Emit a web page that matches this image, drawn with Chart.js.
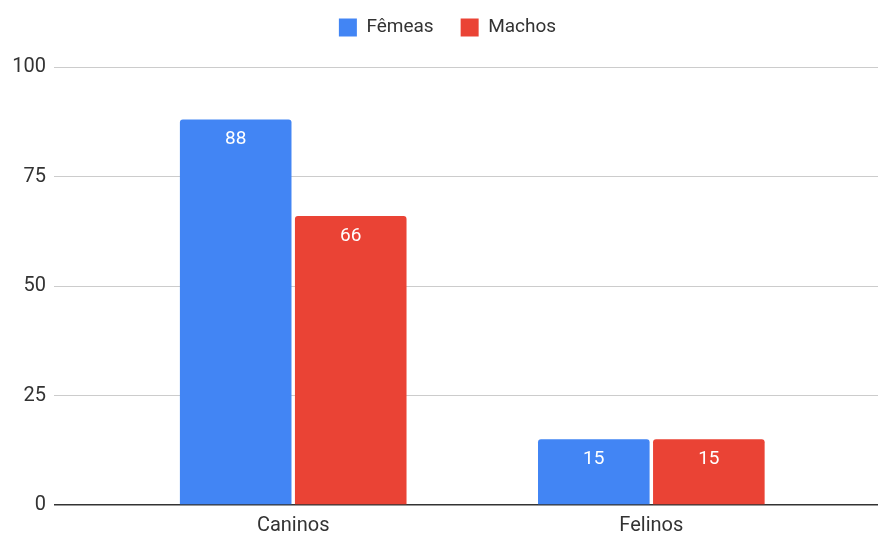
<!DOCTYPE html>
<html>
<head>
<meta charset="utf-8">
<script src="https://cdn.jsdelivr.net/npm/chart.js@4/dist/chart.umd.min.js"></script>
<style>
  html, body { margin: 0; padding: 0; background: #fff; }
  #wrap { width: 880px; height: 534px; }
</style>
</head>
<body>
<div id="wrap"><canvas id="chart"></canvas></div>
<script>
/* ── Datos ─────────────────────────────────────────────── */
const CATEGORIAS = ['Caninos', 'Felinos'];
const FEMEAS     = [88, 15];
const MACHOS     = [66, 15];
const Y_TICKS    = [0, 25, 50, 75, 100];

const AZUL     = '#4285F4';
const VERMELHO = '#EA4335';

Chart.defaults.font.family = "Roboto, 'Noto Sans', sans-serif";
Chart.defaults.font.size   = 19;
Chart.defaults.color       = '#333';

/* ── Etiquetas dentro de las barras ────────────────────── */
const barLabels = {
  id: 'barLabels',
  afterDatasetsDraw(chart) {
    const { ctx } = chart;
    ctx.save();
    ctx.font = "19px Roboto, sans-serif";
    ctx.fillStyle = '#fff';
    ctx.textAlign = 'center';
    ctx.textBaseline = 'middle';
    chart.data.datasets.forEach((ds, i) => {
      chart.getDatasetMeta(i).data.forEach((bar, j) => {
        ctx.fillText(String(ds.data[j].y), bar.x, bar.y + 20);
      });
    });
    ctx.restore();
  }
};

/* leyenda un poco a la derecha, como en el original */
const legendShift = {
  id: 'legendShift',
  afterLayout(chart) { if (chart.legend) chart.legend.left += 17; }
};

const toPoints = arr => arr.map((v, i) => ({ x: i, y: v }));

new Chart(document.getElementById('chart'), {
  type: 'bar',
  data: {
    datasets: [
      { label: 'Fêmeas', data: toPoints(FEMEAS), backgroundColor: AZUL,
        borderRadius: { topLeft: 3, topRight: 3 }, borderSkipped: 'bottom' },
      { label: 'Machos', data: toPoints(MACHOS), backgroundColor: VERMELHO,
        borderRadius: { topLeft: 3, topRight: 3 }, borderSkipped: 'bottom' },
    ],
  },
  options: {
    responsive: true, maintainAspectRatio: false, animation: false,
    layout: { padding: { left: 0, right: 2, top: -9, bottom: 0 } },
    datasets: { bar: { categoryPercentage: 0.6425, barPercentage: 0.97 } },
    scales: {
      x: {
        type: 'linear', min: -0.668, max: 1.633, offset: false, bounds: 'data',
        afterBuildTicks: s => { s.ticks = CATEGORIAS.map((_, i) => ({ value: i })); },
        afterFit: s => { s.height = 29; },
        ticks: { callback: v => CATEGORIAS[v], padding: 9, color: '#333', maxRotation: 0, font: { size: 20 } },
        grid: { display: false, drawTicks: false, offset: false },
        border: { display: false },
      },
      y: {
        min: 0, max: 100,
        afterBuildTicks: s => { s.ticks = Y_TICKS.map(v => ({ value: v })); },
        afterFit: s => { s.width = 54; },
        ticks: { padding: 8, color: '#333', font: { size: 20 } },
        grid: {
          drawTicks: false,
          color: c => c.tick && c.tick.value === 0 ? '#333' : '#cccccc',
          lineWidth: c => c.tick && c.tick.value === 0 ? 1.5 : 1,
        },
        border: { display: false },
      },
    },
    plugins: {
      legend: {
        position: 'top',
        labels: { boxWidth: 18, boxHeight: 18, padding: 27, color: '#333', font: { size: 19 } },
      },
      /* separador vacío entre la leyenda y el área del gráfico */
      title: { display: true, text: '', weight: 500, padding: 0, font: { size: 20, lineHeight: 1 } },
      tooltip: { enabled: false },
    },
  },
  plugins: [barLabels, legendShift],
});
</script>
</body>
</html>
